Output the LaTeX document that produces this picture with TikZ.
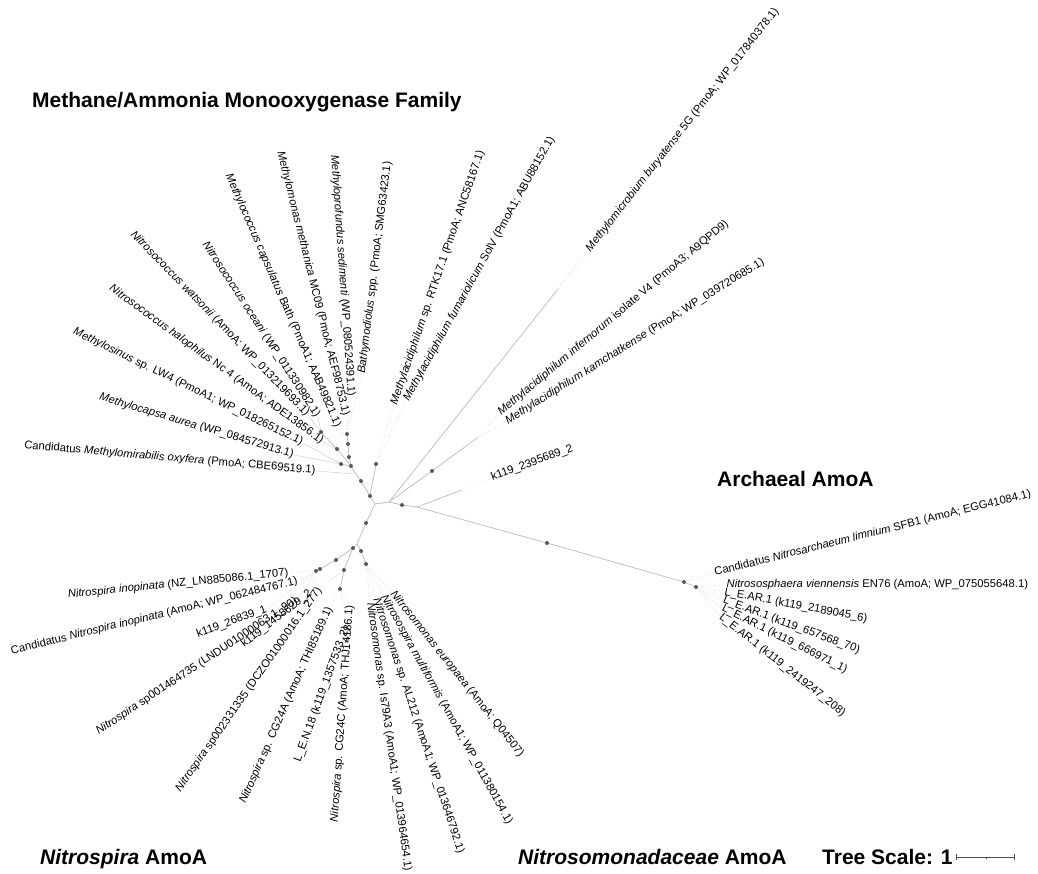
\documentclass[tikz,border=0pt]{standalone}
\usepackage{fontspec}
\setmainfont{Liberation Sans}
\begin{document}
\begin{tikzpicture}[x=1pt,y=-1pt,
  br/.style={draw=gray!55, line width=0.7pt},
  tl/.style={draw=gray!40, line width=0.5pt},
  lc/.style={draw=gray!40, dotted, line width=0.6pt},
  dot/.style={circle, fill=black!65, inner sep=0pt, minimum size=4pt},
  lab/.style={font=\fontsize{11.25}{13}\selectfont, inner sep=0.5pt},
  le/.style={lab, anchor=east},
  lw/.style={lab, anchor=west},
  grp/.style={font=\fontsize{21}{25}\selectfont\bfseries, inner sep=0pt, anchor=base west}]
\useasboundingbox (0,0) rectangle (1038,873);

% ---------- internal coordinates ----------
\coordinate (R) at (375,504);
\coordinate (A1) at (370,496);
\coordinate (A2) at (361,481);
\coordinate (J1) at (356,474);
\coordinate (A3) at (351,466);
\coordinate (B1) at (341,464);
\coordinate (B2) at (349,457);
\coordinate (B3) at (348,444);
\coordinate (B4) at (347,434);
\coordinate (B5) at (337,449);
\coordinate (B6) at (321,432);
\coordinate (C1) at (376,464);
\coordinate (D1) at (389,502);
\coordinate (D2) at (402,505);
\coordinate (D3) at (417,507);
\coordinate (M1) at (558,289);
\coordinate (K1) at (432,471);
\coordinate (K2) at (477,438);
\coordinate (N1) at (462,490);
\coordinate (E0) at (547,543);
\coordinate (E1) at (684,582);
\coordinate (E2) at (696,587);
\coordinate (S1) at (366,523);
\coordinate (F1) at (357,544);
\coordinate (G1) at (353,548);
\coordinate (G2) at (336,560);
\coordinate (G3) at (320,569);
\coordinate (G3b) at (316,571);
\coordinate (G4) at (344,570);
\coordinate (G5) at (340,589);
\coordinate (H1) at (361,551);
\coordinate (H2) at (366,564);

% ---------- labels ----------
\node[le, rotate=-5]    (L1) at (316,471) {Candidatus \textit{Methylomirabilis oxyfera} (PmoA; CBE69519.1)};
\node[le, rotate=-16.6] (L2) at (294,455) {\textit{Methylocapsa aurea} (WP\_084572913.1)};
\node[le, rotate=-26]   (L3) at (303,443) {\textit{Methylosinus} sp. LW4 (PmoA1; WP\_018265152.1)};
\node[le, rotate=-36]   (L4) at (323,442) {\textit{Nitrosococcus halophilus} Nc 4 (AmoA; ADE13856.1)};
\node[le, rotate=-46]   (L5) at (308,415) {\textit{Nitrosococcus watsonii} (AmoA; WP\_013219693.1)};
\node[le, rotate=-57]   (L6) at (318,417) {\textit{Nitrosococcus oceani} (WP\_011330982.1)};
\node[le, rotate=-66.5] (L7) at (338,427) {\textit{Methylococcus capsulatus} Bath (PmoA1; AAB49821.1)};
\node[le, rotate=-76]   (L8) at (346,416) {\textit{Methylomonas methanica} MC09 (PmoA; AEF98753.1)};
\node[le, rotate=-86]   (L9) at (351,397) {\textit{Methyloprofundus sedimenti} (WP\_080524391.1)};
\node[lw, rotate=83]    (L10) at (362,374) {\textit{Bathymodiolus} spp. (PmoA; SMG63423.1)};
\node[lw, rotate=71]    (L11) at (394,405) {\textit{Methylacidiphilum} sp. RTK17.1 (PmoA; ANC58167.1)};
\node[lw, rotate=61]    (L12) at (406,401) {\textit{Methylacidiphilum fumariolicum} SolV (PmoA1; ABU88152.1)};
\node[lw, rotate=52]    (L13) at (588,251) {\textit{Methylomicrobium buryatense} 5G (PmoA; WP\_017840378.1)};
\node[lw, rotate=40]    (L14) at (499,414) {\textit{Methylacidiphilum infernorum} isolate V4 (PmoA3; A9QPD9)};
\node[lw, rotate=32]    (L15) at (506,422) {\textit{Methylacidiphilum kamchatkense} (PmoA; WP\_039720685.1)};
\node[lw, rotate=20]    (L16) at (491,478) {k119\_2395689\_2};
\node[lw, rotate=14]    (L17) at (714,573) {Candidatus \textit{Nitrosarchaeum limnium} SFB1 (AmoA; EGG41084.1)};
\node[lw, rotate=0]     (L18) at (726,585) {\textit{Nitrososphaera viennensis} EN76 (AmoA; WP\_075055648.1)};
\node[lw, rotate=-10.7] (L19) at (724,592) {L\_E.AR.1 (k119\_2189045\_6)};
\node[lw, rotate=-20.4] (L20) at (723,600) {L\_E.AR.1 (k119\_657568\_70)};
\node[lw, rotate=-26.6] (L21) at (722,608) {L\_E.AR.1 (k119\_666971\_1)};
\node[lw, rotate=-38.4] (L22) at (720,616) {L\_E.AR.1 (k119\_2419247\_208)};
\node[le, rotate=5.7]   (L23) at (289,573) {\textit{Nitrospira inopinata} (NZ\_LN885086.1\_1707)};
\node[le, rotate=13.8]  (L24) at (298,581) {Candidatus \textit{Nitrospira inopinata} (AmoA; WP\_062484767.1)};
\node[le, rotate=20]    (L25) at (267,609) {k119\_26839\_1};
\node[le, rotate=33.5]  (L26) at (297,600) {\textit{Nitrospira} sp001464735 (LNDU01000063.1\_90)};
\node[le, rotate=38]    (L27) at (311,592) {k119\_1458629\_2};
\node[le, rotate=55]    (L28) at (320,588) {\textit{Nitrospira} sp002331335 (DCZO01000016.1\_277)};
\node[le, rotate=66]    (L29) at (330,607) {\textit{Nitrospira} sp. CG24A (AmoA; THI85189.1)};
\node[le, rotate=70]    (L30) at (347,626) {L\_E.N.18 (k119\_1357533\_2)};
\node[le, rotate=86]    (L31) at (350,605) {\textit{Nitrospira} sp. CG24C (AmoA; THJ14186.1)};
\node[lw, rotate=-82]   (L32) at (370,602) {\textit{Nitrosomonas} sp. Is79A3 (AmoA1; WP\_013964654.1)};
\node[lw, rotate=-71.6] (L33) at (376,598) {\textit{Nitrosomonas} sp. AL212 (AmoA1; WP\_013646792.1)};
\node[lw, rotate=-61]   (L34) at (383,595) {\textit{Nitrosospira multiformis} (AmoA1; WP\_011380154.1)};
\node[lw, rotate=-51.6] (L35) at (392,592) {\textit{Nitrosomonas europaea} (AmoA; Q04507)};

% ---------- branches ----------
\draw[br] (R) -- (A1) -- (A2) -- (J1) -- (A3) -- (B1);
\draw[br] (A3) -- (B2) -- (B3) -- (B4);
\draw[br] (A3) -- (B5) -- (B6);
\draw[br] (A1) -- (C1);
\draw[br] (R) -- (D1) -- (D2) -- (D3);
\draw[br] (D1) -- (M1);
\draw[br] (D1) -- (K1) -- (K2);
\draw[br] (D3) -- (N1);
\draw[br] (D3) -- (E0) -- (E1) -- (E2);
\draw[br] (R) -- (S1) -- (F1) -- (G1) -- (G2) -- (G3) -- (G3b);
\draw[br] (G1) -- (G4) -- (G5);
\draw[br] (F1) -- (H1) -- (H2);

% ---------- leaf connectors ----------
\draw[tl] (J1) -- (L1.east);
\draw[tl] (B1) -- (L2.east);
\draw[tl] (B1) -- (L3.east);
\draw[tl] (B5) -- (L4.east);
\draw[tl] (B6) -- (L5.east);
\draw[tl] (B6) -- (L6.east);
\draw[lc] (B3) -- (L7.east);
\draw[lc] (B4) -- (L8.east);
\draw[lc] (B4) -- (L9.east);
\draw[lc] (B4) -- (L10.west);
\draw[lc] (C1) -- (L11.west);
\draw[lc] (C1) -- (L12.west);
\draw[lc] (M1) -- (L13.west);
\draw[lc] (K2) -- (L14.west);
\draw[lc] (K2) -- (L15.west);
\draw[lc] (N1) -- (L16.west);
\draw[lc] (E1) -- (L17.west);
\draw[lc] (E2) -- (L18.west);
\draw[lc] (E2) -- (L19.west);
\draw[lc] (E2) -- (L20.west);
\draw[lc] (E2) -- (L21.west);
\draw[lc] (E2) -- (L22.west);
\draw[lc] (G3) -- (L23.east);
\draw[lc] (G3) -- (L24.east);
\draw[lc] (G3b) -- (L25.east);
\draw[lc] (G3b) -- (L26.east);
\draw[lc] (G3b) -- (L27.east);
\draw[lc] (G4) -- (L28.east);
\draw[lc] (G5) -- (L29.east);
\draw[lc] (G5) -- (L30.east);
\draw[lc] (G5) -- (L31.east);
\draw[lc] (H2) -- (L32.west);
\draw[lc] (H2) -- (L33.west);
\draw[lc] (H2) -- (L34.west);
\draw[lc] (H2) -- (L35.west);

% ---------- node dots ----------
\foreach \n in {A1,A2,A3,B1,B2,B3,B4,B5,B6,C1,D2,K1,E0,E1,E2,S1,G1,G2,G3,G3b,G4,G5,H1,H2}
  \node[dot] (d\n) at (\n) {};

% ---------- group titles ----------
\node[grp] (T1) at (32,107) {Methane/Ammonia Monooxygenase Family};
\node[grp] (T2) at (717,486) {Archaeal AmoA};
\node[grp] (T3) at (40,864) {\textit{Nitrospira} AmoA};
\node[grp] (T4) at (518,864) {\textit{Nitrosomonadaceae} AmoA};
\node[grp] (T5) at (822,864) {Tree Scale: 1};

% ---------- scale bar ----------
\coordinate (sb1) at (956,857);
\coordinate (sb2) at (1014,857);
\coordinate (sbm) at (986,857);
\draw[black!70, line width=0.7pt] (sb1) -- (sb2);
\draw[black!70, line width=0.7pt] ([yshift=-3pt]sb1) -- ([yshift=3pt]sb1);
\draw[black!70, line width=0.7pt] ([yshift=-3pt]sb2) -- ([yshift=3pt]sb2);
\draw[black!70, line width=0.5pt] ([yshift=-1.5pt]sbm) -- ([yshift=0pt]sbm);
\end{tikzpicture}
\end{document}
